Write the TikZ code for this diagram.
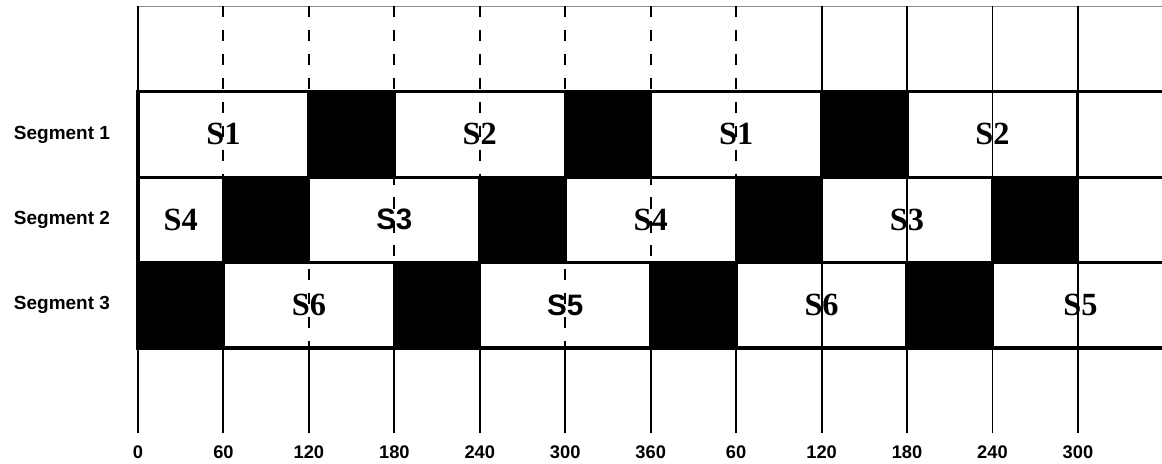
\documentclass[tikz,border=0pt]{standalone}
\usepackage{fontspec}
\setmainfont{Liberation Serif}
\setsansfont{Liberation Sans}
\usetikzlibrary{positioning}

\begin{document}
\begin{tikzpicture}[x=2.136cm, y=2.136cm,
  grid/.style={line width=1.4pt},
  dashgrid/.style={grid, dash pattern=on 8pt off 9pt},
  blk/.style={draw, line width=2.2pt, anchor=south west, inner sep=0pt, outer sep=0pt, minimum height=2.136cm},
  slot/.style={blk, font=\bfseries\fontsize{23}{25}\selectfont},
  slotsf/.style={slot, font=\sffamily\bfseries\fontsize{21}{24}\selectfont},
  idle/.style={blk, fill=black},
  one/.style={minimum width=2.136cm},
  two/.style={minimum width=4.272cm},
  seg/.style={font=\sffamily\bfseries\fontsize{13.5}{15}\selectfont},
  tick/.style={font=\sffamily\bfseries\fontsize{13}{15}\selectfont}
]
  \useasboundingbox (-1.615,-1.346) rectangle (11.984,4.073);

  % time grid
  \draw[black!45, line width=0.8pt] (0,4) -- (11.984,4);
  \foreach \i in {0,8,9,10,11}
    \draw[grid] (\i,-1) -- (\i,4);
  \foreach \i in {1,...,7} {
    \draw[grid] (\i,-1) -- (\i,0);
    \draw[dashgrid] (\i,4) -- (\i,0);
  }

  \begin{scope}
    \clip (-1.615,-1.346) rectangle (11.984,4.073);
    % Segment 1
    \node[slot, two] (s1a) at (0,2) {S1};
    \node[idle, one, right=0pt of s1a] (b1a) {};
    \node[slot, two, right=0pt of b1a] (s2a) {S2};
    \node[idle, one, right=0pt of s2a] (b1b) {};
    \node[slot, two, right=0pt of b1b] (s1b) {S1};
    \node[idle, one, right=0pt of s1b] (b1c) {};
    \node[slot, two, right=0pt of b1c] (s2b) {S2};
    \node[slot, minimum width=2.6cm, right=0pt of s2b] (e1) {};
    % Segment 2
    \node[slot, one] (s4a) at (0,1) {S4};
    \node[idle, one, right=0pt of s4a] (b2a) {};
    \node[slotsf, two, right=0pt of b2a] (s3a) {S3};
    \node[idle, one, right=0pt of s3a] (b2b) {};
    \node[slot, two, right=0pt of b2b] (s4b) {S4};
    \node[idle, one, right=0pt of s4b] (b2c) {};
    \node[slot, two, right=0pt of b2c] (s3b) {S3};
    \node[idle, one, right=0pt of s3b] (b2d) {};
    \node[slot, minimum width=2.6cm, right=0pt of b2d] (e2) {};
    % Segment 3
    \node[idle, one] (b3a) at (0,0) {};
    \node[slot, two, right=0pt of b3a] (s6a) {S6};
    \node[idle, one, right=0pt of s6a] (b3b) {};
    \node[slotsf, two, right=0pt of b3b] (s5a) {S5};
    \node[idle, one, right=0pt of s5a] (b3c) {};
    \node[slot, two, right=0pt of b3c] (s6b) {S6};
    \node[idle, one, right=0pt of s6b] (b3d) {};
    \node[slot, minimum width=4.4cm, right=0pt of b3d] (s5b) {S5};
  \end{scope}

  \node[seg] (seg1) at (-0.89,2.5) {Segment 1};
  \node[seg] (seg2) at (-0.89,1.5) {Segment 2};
  \node[seg] (seg3) at (-0.89,0.5) {Segment 3};

  \foreach \i/\t in {0/0, 1/60, 2/120, 3/180, 4/240, 5/300, 6/360, 7/60, 8/120, 9/180, 10/240, 11/300}
    \node[tick] (t\i) at (\i,-1.22) {\t};
\end{tikzpicture}
\end{document}
